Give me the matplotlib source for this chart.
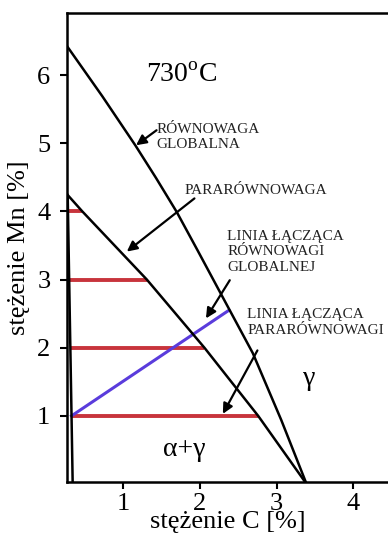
import matplotlib
matplotlib.use("Agg")
import matplotlib.pyplot as plt

plt.rcParams["font.family"] = ["Liberation Serif", "DejaVu Serif"]
plt.rcParams["mathtext.fontset"] = "custom"
plt.rcParams["mathtext.rm"] = "Liberation Serif"

# granica równowagi globalnej (C, Mn)
global_c = [0.28, 0.73, 1.16, 1.43, 1.70, 1.97, 2.27, 2.69, 3.06, 3.39]
global_mn = [6.41, 5.69, 4.97, 4.49, 3.99, 3.43, 2.80, 1.92, 0.94, 0.0]

# granica pararównowagi
para_c = [0.28, 0.47, 1.31, 2.06, 2.76, 3.39]
para_mn = [4.24, 4.0, 3.0, 2.0, 1.0, 0.0]

# granica ferrytu
alpha_c = [0.28, 0.33, 0.345]
alpha_mn = [4.24, 1.0, 0.0]

# linie łączące pararównowagi (poziome)
tie_mn = [1, 2, 3, 4]
tie_c_start = [0.33, 0.31, 0.30, 0.28]
tie_c_end = [2.76, 2.06, 1.31, 0.47]

# linia łącząca równowagi globalnej
global_tie_c = [0.33, 2.38]
global_tie_mn = [1.0, 2.55]

fig = plt.figure(figsize=(3.88, 5.34), dpi=100)
ax = fig.add_axes([67 / 388, 52 / 534, 1 - 67 / 388, 469 / 534])

for mn, c0, c1 in zip(tie_mn, tie_c_start, tie_c_end):
    ax.plot([c0, c1], [mn, mn], color="#c8343c", lw=2.8, solid_capstyle="butt", zorder=2)
ax.plot(global_tie_c, global_tie_mn, color="#5a3cdc", lw=2.2, zorder=3)

ax.plot(global_c, global_mn, color="k", lw=1.8, zorder=4)
ax.plot(para_c, para_mn, color="k", lw=1.8, zorder=4)
ax.plot(alpha_c, alpha_mn, color="k", lw=1.8, zorder=4)

ax.set_xlim(0.271, 4.45)
ax.set_ylim(0.03, 6.91)
ax.set_xticks([1, 2, 3, 4])
ax.set_yticks([1, 2, 3, 4, 5, 6])
ax.tick_params(direction="out", length=5, width=1.5, labelsize=19)
ax.tick_params(axis="x", pad=3)
ax.tick_params(axis="y", pad=7)
for side in ["left", "bottom", "top"]:
    ax.spines[side].set_linewidth(1.8)
ax.spines["right"].set_visible(False)

ax.set_xlabel("stężenie C [%]", fontsize=19, labelpad=-3)
ax.set_ylabel("stężenie Mn [%]", fontsize=19, labelpad=5)

ax.text(1.76, 6.0, r"730$^{\mathrm{o}}$C", fontsize=20, ha="center", va="center")
ax.text(3.43, 1.55, "γ", fontsize=20, ha="center", va="center")
ax.text(1.80, 0.50, "α+γ", fontsize=20, ha="center", va="center")

note = dict(fontsize=11, color="#222222", ha="left", va="center", linespacing=1.25)
arrow = dict(arrowstyle="-|>", color="k", lw=1.6, mutation_scale=15, shrinkA=0, shrinkB=0)

ax.text(1.44, 5.09, "RÓWNOWAGA\nGLOBALNA", **note)
ax.annotate("", xy=(1.17, 4.97), xytext=(1.437, 5.19), arrowprops=arrow)

ax.text(1.80, 4.31, "PARARÓWNOWAGA", **note)
ax.annotate("", xy=(1.05, 3.41), xytext=(1.93, 4.19), arrowprops=arrow)

ax.text(2.36, 3.41, "LINIA ŁĄCZĄCA\nRÓWNOWAGI\nGLOBALNEJ", **note)
ax.annotate("", xy=(2.08, 2.43), xytext=(2.39, 2.99), arrowprops=arrow)

ax.text(2.62, 2.37, "LINIA ŁĄCZĄCA\nPARARÓWNOWAGI", **note)
ax.annotate("", xy=(2.30, 1.03), xytext=(2.75, 1.96), arrowprops=arrow)

fig.savefig("out.png", dpi=100)
